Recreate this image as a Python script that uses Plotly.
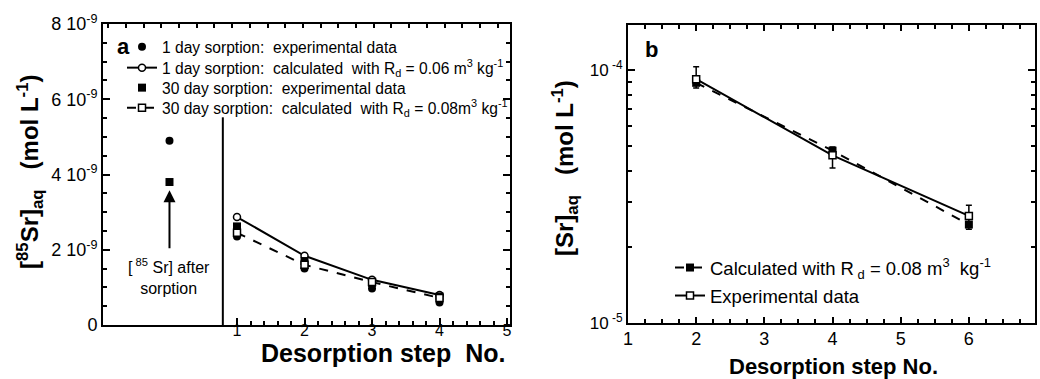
import plotly.graph_objects as go

# ---- panel a: 85Sr concentration after sorption and during desorption ----
steps_exp = [0, 1, 2, 3, 4]
steps_calc = [1, 2, 3, 4]
day1_exp = [4.9e-9, 2.35e-9, 1.5e-9, 0.97e-9, 0.6e-9]
day1_calc = [2.87e-9, 1.84e-9, 1.2e-9, 0.8e-9]
day30_exp = [3.8e-9, 2.62e-9, 1.7e-9, 1.12e-9, 0.76e-9]
day30_calc = [2.45e-9, 1.6e-9, 1.14e-9, 0.72e-9]
a_yticks = [0, 2e-9, 4e-9, 6e-9, 8e-9]
a_yticktext = ["0", "2 10<sup>-9</sup>", "4 10<sup>-9</sup>", "6 10<sup>-9</sup>", "8 10<sup>-9</sup>"]
a_xticks = [1, 2, 3, 4, 5]
divider_x = 0.79
divider_top = 5.52e-9
arrow_tip = 3.58e-9
arrow_base = 2.0e-9

# ---- panel b: stable Sr concentration ----
b_steps = [2, 4, 6]
b_calc = [8.9e-5, 4.8e-5, 2.45e-5]
b_exp = [9.2e-5, 4.6e-5, 2.65e-5]
b_err_plus = [1.1e-5, 0.36e-5, 0.27e-5]
b_err_minus = [0.7e-5, 0.5e-5, 0.3e-5]
b_xticks = [1, 2, 3, 4, 5, 6, 7]
b_yticks = [1e-5, 1e-4]
b_yticktext = ["10<sup> -5</sup>", "10<sup> -4</sup>"]

FONT = "Liberation Sans, Arial, sans-serif"
BLACK = "black"

fig = go.Figure()

fig.add_trace(go.Scatter(
    x=steps_exp, y=day1_exp, mode="markers", xaxis="x", yaxis="y",
    name="1 day sorption:  experimental data",
    marker=dict(symbol="circle", size=8, color=BLACK), legend="legend"))
fig.add_trace(go.Scatter(
    x=steps_calc, y=day1_calc, mode="lines+markers", xaxis="x", yaxis="y",
    name="1 day sorption:  calculated  with R<sub>d</sub> = 0.06 m<sup>3</sup> kg<sup>-1</sup>",
    line=dict(color=BLACK, width=2),
    marker=dict(symbol="circle", size=7, color="white", line=dict(color=BLACK, width=1.5)),
    legend="legend3"))
fig.add_trace(go.Scatter(
    x=steps_exp, y=day30_exp, mode="markers", xaxis="x", yaxis="y",
    name="30 day sorption:  experimental data",
    marker=dict(symbol="square", size=8, color=BLACK), legend="legend4"))
fig.add_trace(go.Scatter(
    x=steps_calc, y=day30_calc, mode="lines+markers", xaxis="x", yaxis="y",
    name="30 day sorption:  calculated  with R<sub>d</sub> = 0.08m<sup>3</sup> kg<sup>-1</sup>",
    line=dict(color=BLACK, width=2, dash="dash"),
    marker=dict(symbol="square", size=7, color="white", line=dict(color=BLACK, width=1.5)),
    legend="legend5"))

fig.add_trace(go.Scatter(
    x=b_steps, y=b_calc, mode="lines+markers", xaxis="x2", yaxis="y2",
    name="Calculated with R<sub> d</sub> = 0.08 m<sup>3</sup>  kg<sup>-1</sup>",
    line=dict(color=BLACK, width=2, dash="dash"),
    marker=dict(symbol="square", size=8, color=BLACK), legend="legend2"))
fig.add_trace(go.Scatter(
    x=b_steps, y=b_exp, mode="lines+markers", xaxis="x2", yaxis="y2",
    name="Experimental data",
    line=dict(color=BLACK, width=2),
    marker=dict(symbol="square", size=7, color="white", line=dict(color=BLACK, width=1.5)),
    error_y=dict(type="data", symmetric=False, array=b_err_plus, arrayminus=b_err_minus,
                 color=BLACK, thickness=1.5, width=3),
    legend="legend6"))

# empty traces so the auxiliary axes (top tick row, label rows) get drawn
for xa, ya in [("x3", "y"), ("x4", "y"), ("x5", "y2")]:
    fig.add_trace(go.Scatter(x=[], y=[], xaxis=xa, yaxis=ya, showlegend=False,
                             hoverinfo="skip"))

# helper pixel -> paper conversion
W, H = 1040, 379
def px(x):
    return x / W
def py(y):
    return 1 - y / H

axis_common = dict(showline=True, linecolor=BLACK, linewidth=2, ticks="inside",
                   tickcolor=BLACK, tickwidth=1.5, showgrid=False, zeroline=False,
                   automargin=False)

def row_legend(x, y, size):
    return dict(x=px(x), y=py(y), xanchor="left", yanchor="middle",
                bgcolor="rgba(0,0,0,0)", font=dict(family=FONT, size=size, color=BLACK),
                tracegroupgap=0, itemwidth=30)

A_XRANGE = [-0.985, 5.044]
B_XRANGE = [1, 6.97]

fig.update_layout(
    width=W, height=H, margin=dict(l=0, r=0, t=0, b=0, autoexpand=False),
    paper_bgcolor="white", plot_bgcolor="white",
    font=dict(family=FONT, color=BLACK),
    xaxis=dict(domain=[px(103), px(510)], range=A_XRANGE, anchor="y",
               tickvals=a_xticks, ticklen=7, showticklabels=False,
               minor=dict(tickvals=[1 + 0.2 * i for i in range(1, 20) if i % 5], ticks="inside",
                          ticklen=4, tickcolor=BLACK, tickwidth=1.5),
               **axis_common),
    # tick row along the top edge of panel a
    xaxis3=dict(overlaying="x", anchor="y", side="top", range=[-0.3, 22.7], dtick=1,
                showticklabels=False, ticklen=4, showline=True, linecolor=BLACK, linewidth=2,
                ticks="inside", tickcolor=BLACK, tickwidth=1.5, showgrid=False, zeroline=False,
                automargin=False),
    # tick labels of panel a, set slightly closer to the frame
    xaxis4=dict(overlaying="x", anchor="free", position=py(319), range=A_XRANGE,
                tickvals=a_xticks, ticks="", showline=False, showgrid=False, zeroline=False,
                automargin=False, tickfont=dict(family=FONT, size=16, color=BLACK)),
    yaxis=dict(domain=[py(325), py(24)], range=[0, 8e-9], anchor="x",
               tickvals=a_yticks, ticktext=a_yticktext, ticklen=7, mirror="ticks",
               tickfont=dict(family=FONT, size=18, color=BLACK),
               minor=dict(dtick=0.5e-9, ticks="inside", ticklen=4, tickcolor=BLACK, tickwidth=1.5),
               **axis_common),
    xaxis2=dict(domain=[px(628), px(1035)], range=B_XRANGE, anchor="y2",
                tickvals=b_xticks, ticklen=6, mirror="ticks", showticklabels=False,
                minor=dict(dtick=0.25, tick0=1, ticks="inside", ticklen=4, tickcolor=BLACK,
                           tickwidth=1.5),
                **axis_common),
    xaxis5=dict(overlaying="x2", anchor="free", position=py(326), range=B_XRANGE,
                tickvals=b_xticks, ticks="", showline=False, showgrid=False, zeroline=False,
                automargin=False, tickfont=dict(family=FONT, size=18, color=BLACK)),
    yaxis2=dict(domain=[py(323), py(25)], type="log", range=[-5, -3.822], anchor="x2",
                tickvals=b_yticks, ticktext=b_yticktext, ticklen=7, mirror="ticks",
                tickfont=dict(family=FONT, size=17, color=BLACK),
                minor=dict(tickvals=[k * 1e-5 for k in range(2, 10)], ticks="inside",
                           ticklen=4, tickcolor=BLACK, tickwidth=1.5),
                **axis_common),
    legend=row_legend(122, 47, 15.6),
    legend3=row_legend(122, 68, 15.6),
    legend4=row_legend(122, 88, 15.6),
    legend5=row_legend(122, 108, 15.6),
    legend2=row_legend(670, 268, 18.5),
    legend6=row_legend(670, 296, 18.5),
    showlegend=True,
)

# divider separating the sorption point from the desorption steps
fig.add_shape(type="line", xref="x", yref="y", x0=divider_x, x1=divider_x,
              y0=0, y1=divider_top, line=dict(color=BLACK, width=2))

def label(x, y, text, size, angle=0):
    return dict(x=px(x), y=py(y), xref="paper", yref="paper", showarrow=False,
                xanchor="center", yanchor="middle", textangle=angle, text=text,
                font=dict(family=FONT, size=size, color=BLACK))

annotations = [
    # arrow pointing to the concentration after sorption
    dict(x=0, y=arrow_tip, ax=0, ay=arrow_base, xref="x", yref="y", axref="x", ayref="y",
         text="", showarrow=True, arrowhead=2, arrowsize=1.2, arrowwidth=2, arrowcolor=BLACK),
    dict(x=0, y=arrow_base - 0.1e-9, xref="x", yref="y", yanchor="top", showarrow=False,
         text="[<sup> 85</sup> Sr] after<br>sorption", align="center",
         font=dict(family=FONT, size=16, color=BLACK)),
    label(123, 47, "<b>a</b>", 22),
    label(651, 50, "<b>b</b>", 22),
    label(383, 353, "<b>Desorption step  No.</b>", 25),
    label(833, 366, "<b>Desorption step No.</b>", 22),
    label(30, 172, "<b>[<sup>85</sup>Sr]<sub>aq</sub>   (mol L<sup>-1</sup>)</b>", 24, -90),
    label(565, 168, "<b>[Sr]<sub>aq</sub>   (mol L<sup>-1</sup>)</b>", 24, -90),
]
fig.update_layout(annotations=annotations)

fig.write_html("out.html")
